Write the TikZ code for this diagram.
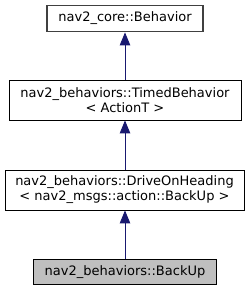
\documentclass[tikz,border=0pt]{standalone}
\usepackage{fontspec}
\setmainfont{DejaVu Sans}
\usetikzlibrary{arrows.meta}
\definecolor{edge}{HTML}{191970}
\definecolor{boxline}{HTML}{404040}
\definecolor{selbg}{HTML}{BFBFBF}

\begin{document}
\begin{tikzpicture}[x=1pt,y=-1pt,font=\fontsize{13}{15}\selectfont,
  cls/.style={draw=black,fill=white,line width=0.8pt,align=center,inner sep=0pt},
  top/.style={cls,draw=boxline,line width=1.3pt},
  sel/.style={cls,fill=selbg},
  inh/.style={draw=edge,line width=0.9pt,-{Triangle[length=13pt,width=10.5pt]}}]
  \useasboundingbox (0,0) rectangle (251,291);
  \node[top,minimum width=156pt,minimum height=26.5pt] (core) at (125,18.5) {nav2\_core::Behavior};
  \node[cls,minimum width=232pt,minimum height=40pt] (timed) at (125,100)
    {nav2\_behaviors::TimedBehavior\\{<} ActionT {>}};
  \node[cls,minimum width=239pt,minimum height=40pt] (drive) at (124.5,190)
    {nav2\_behaviors::DriveOnHeading\\{<} nav2\_msgs::action::BackUp {>}};
  \node[sel,minimum width=183pt,minimum height=25.5pt] (backup) at (125,271.7) {nav2\_behaviors::BackUp};
  \draw[inh] (timed.north -| core.south) -- (core.south);
  \draw[inh] (drive.north -| core.south) -- (timed.south -| core.south);
  \draw[inh] (backup.north) -- (drive.south -| backup.north);
\end{tikzpicture}
\end{document}
